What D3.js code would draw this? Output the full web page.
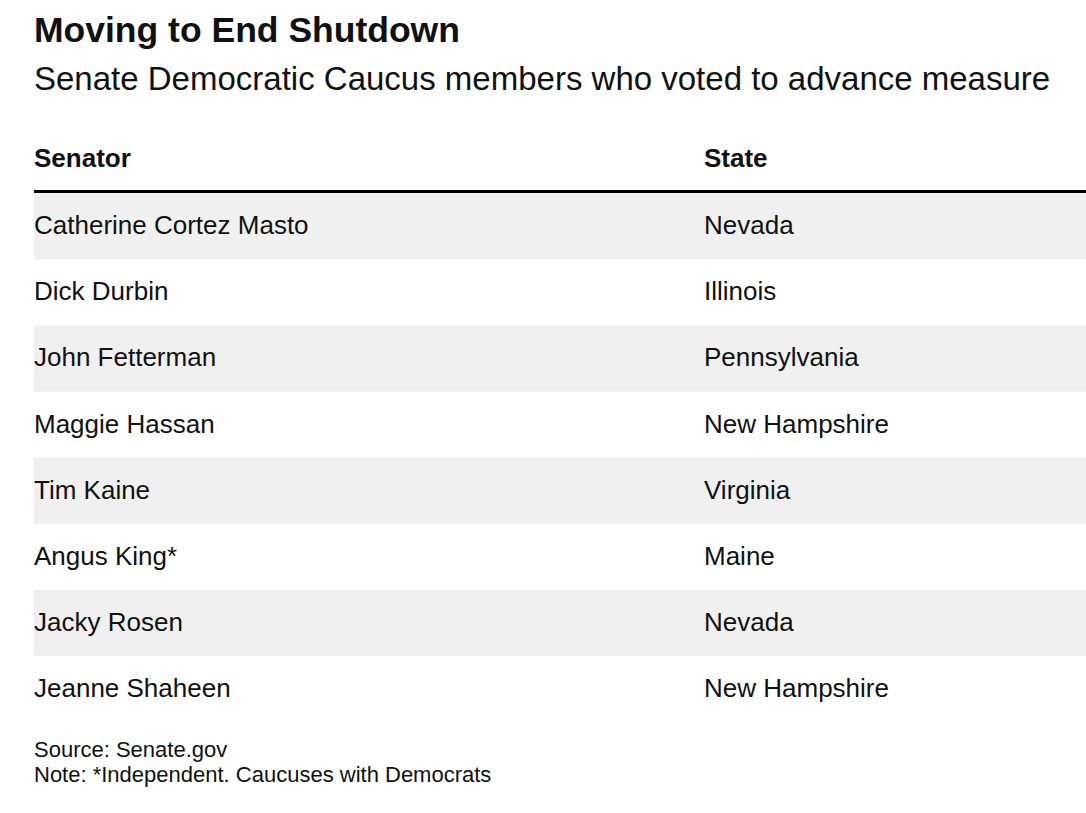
<!DOCTYPE html>
<html>
<head>
<meta charset="utf-8">
<script src="https://cdn.jsdelivr.net/npm/d3@7"></script>
<style>
  body { margin: 0; background: #fff; }
  svg text { font-family: "Liberation Sans", Arial, Helvetica, sans-serif; fill: #111; }
</style>
</head>
<body>
<div id="chart"></div>
<script>
// table contents
const columns = ["Senator", "State"];
const senators = ["Catherine Cortez Masto", "Dick Durbin", "John Fetterman", "Maggie Hassan",
                  "Tim Kaine", "Angus King*", "Jacky Rosen", "Jeanne Shaheen"];
const states = ["Nevada", "Illinois", "Pennsylvania", "New Hampshire",
                "Virginia", "Maine", "Nevada", "New Hampshire"];
const title = "Moving to End Shutdown";
const subtitle = "Senate Democratic Caucus members who voted to advance measure";
const notes = ["Source: Senate.gov", "Note: *Independent. Caucuses with Democrats"];

const width = 1086, height = 813;
const left = 34;

const svg = d3.select("#chart").append("svg")
    .attr("width", width)
    .attr("height", height);

// rows and columns
const rows = senators.map((s, i) => ({ name: s, state: states[i] }));
const y = d3.scaleBand().domain(d3.range(rows.length)).range([193.5, 722]);
const x = d3.scaleOrdinal().domain(columns).range([left, 704]);

// title + subtitle
svg.append("text").attr("x", left).attr("y", 42)
    .style("font-size", "35.5px").style("font-weight", "bold").text(title);
svg.append("text").attr("x", left).attr("y", 90)
    .style("font-size", "33px").text(subtitle);

// column headers
svg.selectAll("text.head").data(columns).join("text")
    .attr("class", "head")
    .attr("x", d => x(d)).attr("y", 167)
    .style("font-size", "26px").style("font-weight", "bold")
    .text(d => d);

// striped background on every other row
svg.selectAll("rect.band").data(rows).join("rect")
    .attr("class", "band")
    .attr("x", left).attr("width", width - left)
    .attr("y", (d, i) => y(i)).attr("height", y.bandwidth())
    .attr("fill", (d, i) => i % 2 === 0 ? "#f0f0f0" : "none");

// thick rule under header
svg.append("line")
    .attr("x1", left).attr("x2", width)
    .attr("y1", 191.5).attr("y2", 191.5)
    .attr("stroke", "#000").attr("stroke-width", 3);

// cell text
const rowG = svg.selectAll("g.row").data(rows).join("g")
    .attr("class", "row")
    .attr("transform", (d, i) => `translate(0,${y(i) + y.bandwidth() / 2})`);

rowG.append("text").attr("x", x("Senator")).attr("dy", "0.3em")
    .style("font-size", "26px").text(d => d.name);
rowG.append("text").attr("x", x("State")).attr("dy", "0.3em")
    .style("font-size", "26px").text(d => d.state);

// footer
svg.selectAll("text.note").data(notes).join("text")
    .attr("class", "note")
    .attr("x", left).attr("y", (d, i) => 757 + i * 25)
    .style("font-size", "22px")
    .text(d => d);
</script>
</body>
</html>
